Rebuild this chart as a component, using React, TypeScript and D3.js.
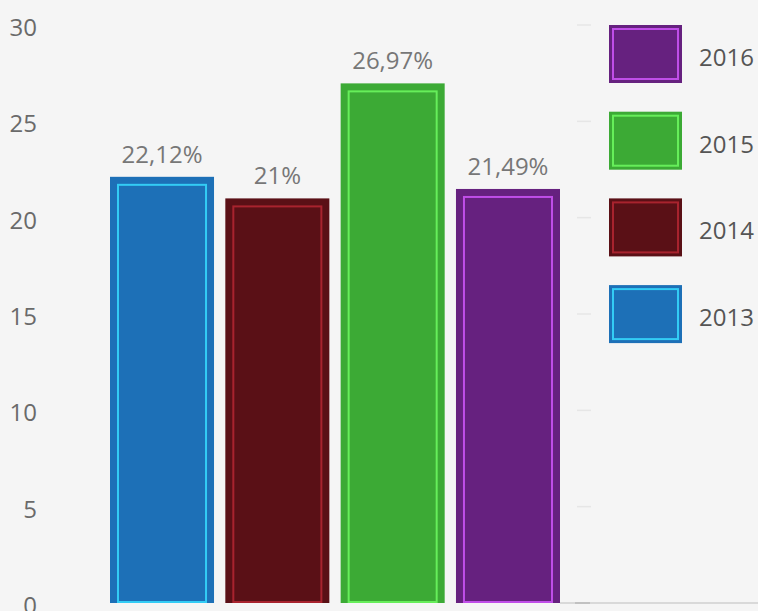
import React from "react";
import * as d3 from "d3";

const years = ["2013", "2014", "2015", "2016"];
const values = [22.12, 21, 26.97, 21.49];
const valueLabels = ["22,12%", "21%", "26,97%", "21,49%"];
const fills = ["#1d70b7", "#5a1016", "#3caa35", "#66217f"];
const strokes = ["#33ccf5", "#a8232e", "#66ee5a", "#c04ee8"];
const yTicks = [0, 5, 10, 15, 20, 25, 30];
const legendOrder = ["2016", "2015", "2014", "2013"];

const W = 758;
const H = 611;
const FONT = "'Open Sans', 'Noto Sans', sans-serif";

export default function App() {
  const y = d3.scaleLinear().domain([0, 30]).range([603, 25]);
  const x = d3
    .scaleBand<string>()
    .domain(years)
    .range([110, 560])
    .paddingInner(0.098)
    .paddingOuter(0);
  const bw = x.bandwidth();

  return (
    <svg
      width={W}
      height={H}
      style={{ position: "absolute", left: 0, top: 0, background: "#f5f5f5" }}
    >
      <rect x={0} y={0} width={W} height={H} fill="#f5f5f5" />
      {/* grid tick marks on the right */}
      {yTicks
        .filter((t) => t > 0)
        .map((t) => (
          <line
            key={"g" + t}
            x1={577}
            x2={591}
            y1={y(t)}
            y2={y(t)}
            stroke="#e6e6e6"
            strokeWidth={1.5}
          />
        ))}
      {/* baseline */}
      <line x1={560} x2={W} y1={y(0)} y2={y(0)} stroke="#cfcfcf" strokeWidth={1.5} />
      <line x1={575} x2={590} y1={y(0)} y2={y(0)} stroke="#b8b8b8" strokeWidth={1.5} />
      {/* y axis labels */}
      {yTicks.map((t) => (
        <text
          key={"t" + t}
          x={37}
          y={y(t) + 11}
          textAnchor="end"
          fontFamily={FONT}
          fontSize={24}
          fill="#6a6a6a"
        >
          {t}
        </text>
      ))}
      {/* bars */}
      {years.map((yr, i) => {
        const bx = x(yr)!;
        const top = y(values[i]);
        const bottom = y(0);
        return (
          <g key={yr}>
            <rect x={bx} y={top} width={bw} height={bottom - top} fill={fills[i]} />
            <rect
              x={bx + 8}
              y={top + 8}
              width={bw - 16}
              height={bottom - top - 9}
              fill="none"
              stroke={strokes[i]}
              strokeWidth={2}
            />
            <text
              x={bx + bw / 2}
              y={top - 14}
              textAnchor="middle"
              fontFamily={FONT}
              fontSize={24}
              fill="#777"
            >
              {valueLabels[i]}
            </text>
          </g>
        );
      })}
      {/* legend */}
      {legendOrder.map((yr, j) => {
        const i = years.indexOf(yr);
        const ly = 25 + j * 86.7;
        return (
          <g key={"l" + yr}>
            <rect x={609} y={ly} width={73} height={58} fill={fills[i]} />
            <rect
              x={613}
              y={ly + 4}
              width={65}
              height={50}
              fill="none"
              stroke={strokes[i]}
              strokeWidth={2}
            />
            <text
              x={699}
              y={ly + 41}
              fontFamily={FONT}
              fontSize={24}
              fill="#555"
            >
              {yr}
            </text>
          </g>
        );
      })}
    </svg>
  );
}
